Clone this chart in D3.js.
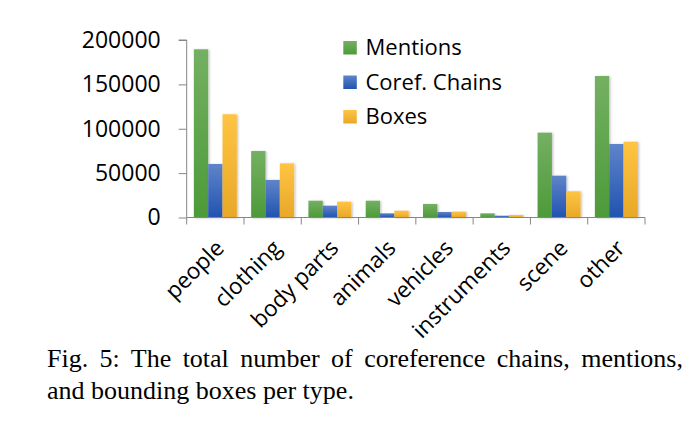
<!DOCTYPE html>
<html><head><meta charset="utf-8">
<script src="https://cdn.jsdelivr.net/npm/d3@7"></script>
<style>body{margin:0;background:#fff;}svg{display:block;}</style>
</head><body>
<script>
const categories = ["people","clothing","body parts","animals","vehicles","instruments","scene","other"];
const seriesNames = ["Mentions","Coref. Chains","Boxes"];
const mentions = [189500, 74900, 18900, 18900, 15200, 4700, 95600, 159400];
const corefChains = [60300, 42300, 13300, 4700, 6200, 2000, 47100, 82800];
const boxes = [116300, 61000, 17800, 7700, 6600, 2800, 29500, 85400];
const yTicks = [0, 50000, 100000, 150000, 200000];
const captionLines = ["Fig. 5: The total number of coreference chains, mentions,", "and bounding boxes per type."];

const W = 692, H = 425;
const svg = d3.select("body").append("svg").attr("width", W).attr("height", H);
const defs = svg.append("defs");
const grads = [["g0","#74b062","#4d9a39"],["g1","#5f84c9","#2153b0"],["g2","#ffc443","#e8a828"]];
grads.forEach(([id,a,b])=>{
  const g = defs.append("linearGradient").attr("id",id).attr("x1",0).attr("y1",0).attr("x2",0).attr("y2",1);
  g.append("stop").attr("offset","0%").attr("stop-color",a);
  g.append("stop").attr("offset","100%").attr("stop-color",b);
});
const f = defs.append("filter").attr("id","sh").attr("x","-20%").attr("y","-5%").attr("width","150%").attr("height","115%");
f.append("feDropShadow").attr("dx",1.2).attr("dy",0.5).attr("stdDeviation",0.8).attr("flood-color","#000").attr("flood-opacity",0.25);

const x0 = 186.7, x1 = 645, yTop = 40, yBot = 217.5;
const x = d3.scaleBand().domain(categories).range([x0, x1]).paddingInner(0).paddingOuter(0);
const xs = d3.scaleBand().domain(seriesNames).range([0, x.bandwidth()]).paddingInner(0).paddingOuter(0.5);
const y = d3.scaleLinear().domain([0, 200000]).range([yBot, yTop]);

const font = "'Open Sans', sans-serif";
const data = categories.map((c,i)=>({c, v:[mentions[i], corefChains[i], boxes[i]]}));

const bars = svg.append("g");
data.forEach(d=>{
  d.v.forEach((v,j)=>{
    bars.append("rect")
      .attr("x", x(d.c) + xs(seriesNames[j]))
      .attr("width", xs.bandwidth())
      .attr("y", y(v))
      .attr("height", yBot - y(v))
      .attr("fill", `url(#g${j})`)
      .attr("filter","url(#sh)");
  });
});

// y axis
const yAxis = svg.append("g").attr("transform", `translate(${x0},0)`)
  .call(d3.axisLeft(y).tickValues(yTicks).tickSize(8).tickPadding(18).tickFormat(d3.format("d")));
yAxis.select(".domain").attr("stroke","#868686").attr("d", `M-8,${yTop}H0V${yBot}`);
yAxis.selectAll(".tick line").attr("stroke","#868686");
yAxis.selectAll(".tick text").attr("font-family", font).attr("font-size", 23).attr("fill","#000");

// x axis
const xAxis = svg.append("g").attr("transform", `translate(0,${yBot})`);
xAxis.append("path").attr("d", `M${x0},0H${x1}`).attr("stroke","#868686").attr("fill","none");
const bounds = categories.map(c=>x(c)).concat([x1]);
xAxis.selectAll("line.t").data(bounds).join("line").attr("class","t")
  .attr("x1", d=>d).attr("x2", d=>d).attr("y1",0).attr("y2",7).attr("stroke","#868686");
xAxis.selectAll("text").data(categories).join("text")
  .attr("transform", d=>`translate(${x(d)+x.bandwidth()/2+10},${32}) rotate(-45)`)
  .attr("text-anchor","end")
  .attr("font-family", font).attr("font-size", 22.5).attr("fill","#000")
  .text(d=>d);

// legend
const lg = svg.append("g");
seriesNames.forEach((s,j)=>{
  const yy = 55 + j*34.5;
  lg.append("rect").attr("x",343.3).attr("y",yy-14).attr("width",13.5).attr("height",13.5).attr("fill",`url(#g${j})`);
  lg.append("text").attr("x",365.5).attr("y",yy).attr("font-family",font).attr("font-size",22).attr("fill","#000").text(s);
});

// caption
const cap = svg.append("g").attr("font-family","'Liberation Serif', 'Times New Roman', serif").attr("font-size",26).attr("fill","#000");
const l1 = cap.append("text").attr("x",47).attr("y",367).text(captionLines[0]);
cap.append("text").attr("x",47).attr("y",399).text(captionLines[1]);
const nat = l1.node().getComputedTextLength();
const spaces = (captionLines[0].match(/ /g)||[]).length;
l1.attr("word-spacing", (636 - nat)/spaces);
</script>
</body></html>
